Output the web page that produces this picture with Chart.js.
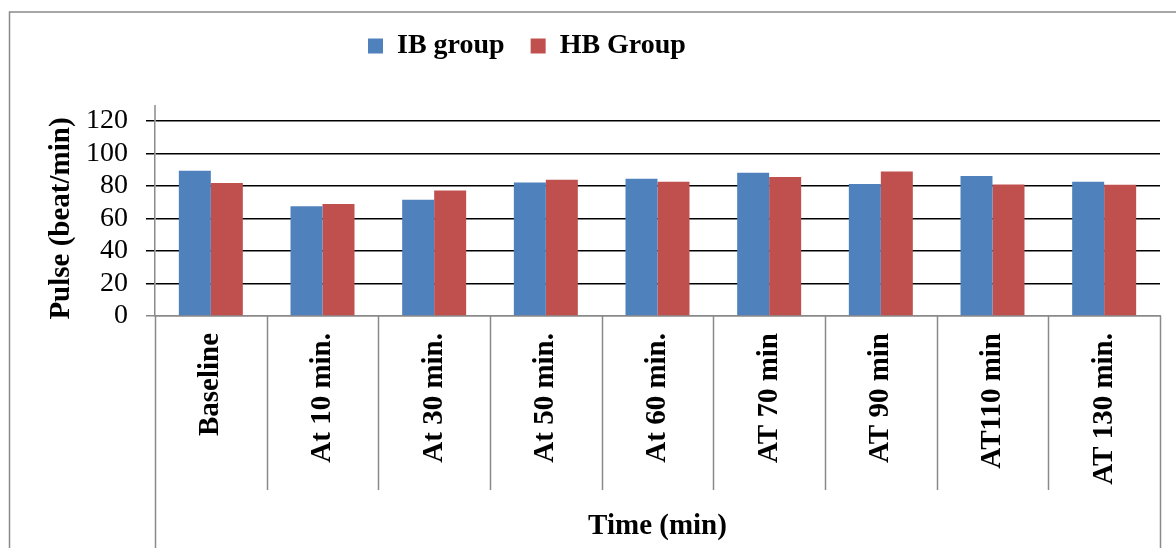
<!DOCTYPE html>
<html>
<head>
<meta charset="utf-8">
<title>Pulse (beat/min)</title>
<script src="https://cdn.jsdelivr.net/npm/chart.js@4.4.1/dist/chart.umd.min.js"></script>
<style>
    body { margin: 0; background: #fff; }
    #wrap { width: 1176px; height: 548px; }
</style>
</head>
<body>
<div id="wrap"><canvas id="pulseChart" width="1176" height="548"></canvas></div>
<script>
// data
const timeLabels = ['Baseline', 'At 10 min.', 'At 30 min.', 'At 50 min.', 'At 60 min.', 'AT 70 min', 'AT 90 min', 'AT110 min', 'AT 130 min.'];
const ibGroup = [89.4, 67.5, 71.6, 82.1, 84.4, 88.1, 81.3, 86.1, 82.6];
const hbGroup = [81.9, 68.9, 77.2, 83.8, 82.6, 85.5, 89.0, 80.9, 80.7];
const yTicks = [0, 20, 40, 60, 80, 100, 120];

const AXIS_GREY = '#8a8a8a';
const SERIF = "'Liberation Serif', 'Times New Roman', serif";

Chart.defaults.font.family = SERIF;
Chart.defaults.color = '#000';

// legend sits left of the middle and leaves a big gap above the plot
const legendPlace = {
    id: 'legendPlace',
    beforeInit(chart) {
        const originalFit = chart.legend.fit;
        chart.legend.fit = function() {
            originalFit.bind(chart.legend)();
            this.height = 115;
        };
    },
    afterLayout(chart) {
        chart.legend.left = 342;
    }
};

// outer frame, category dividers under the axis, axis line stub above 120
const frameLines = {
    id: 'frameLines',
    beforeDraw(chart) {
        const ctx = chart.ctx;
        ctx.save();
        ctx.strokeStyle = AXIS_GREY;
        ctx.lineWidth = 1.5;
        ctx.beginPath();
        ctx.moveTo(9.5, chart.height);
        ctx.lineTo(9.5, 12);
        ctx.lineTo(chart.width, 12);
        ctx.stroke();
        ctx.restore();
    },
    afterDraw(chart) {
        const { ctx, chartArea } = chart;
        const n = timeLabels.length;
        const step = (chartArea.right - chartArea.left) / n;
        ctx.save();
        ctx.strokeStyle = AXIS_GREY;
        ctx.lineWidth = 1.5;
        ctx.beginPath();
        for (let i = 0; i <= n; i++) {
            const px = Math.round(chartArea.left + i * step) + 0.5;
            const endY = (i === 0 || i === n) ? chart.height : chartArea.bottom + 174;
            ctx.moveTo(px, chartArea.bottom);
            ctx.lineTo(px, endY);
        }
        ctx.moveTo(chartArea.left, chartArea.top - 16);
        ctx.lineTo(chartArea.left, chartArea.top);
        ctx.stroke();
        ctx.restore();
    }
};

new Chart(document.getElementById('pulseChart'), {
    type: 'bar',
    data: {
        labels: timeLabels,
        datasets: [
            { label: 'IB group', data: ibGroup, backgroundColor: '#4f81bd' },
            { label: 'HB Group', data: hbGroup, backgroundColor: '#c0504d' }
        ]
    },
    plugins: [legendPlace, frameLines],
    options: {
        responsive: false,
        animation: false,
        layout: { padding: { top: 6, left: 44, right: 16, bottom: 0 } },
        datasets: {
            bar: { categoryPercentage: 0.573, barPercentage: 1.0 }
        },
        plugins: {
            tooltip: { enabled: false },
            legend: {
                position: 'top',
                align: 'start',
                labels: {
                    boxWidth: 15,
                    boxHeight: 15,
                    padding: 26,
                    color: '#000',
                    font: { family: SERIF, size: 28, weight: 'bold' }
                }
            }
        },
        scales: {
            x: {
                grid: { display: false, drawTicks: false },
                border: { display: true, color: AXIS_GREY, width: 1.5 },
                ticks: {
                    minRotation: 90,
                    maxRotation: 90,
                    padding: 17,
                    autoSkip: false,
                    color: '#000',
                    font: { family: SERIF, size: 29, weight: 'bold' }
                },
                title: {
                    display: true,
                    text: 'Time (min)',
                    color: '#000',
                    font: { family: SERIF, size: 29, weight: 'bold' },
                    padding: { top: 0, bottom: 4 }
                },
                afterFit(scale) { scale.height = 232; }
            },
            y: {
                min: 0,
                max: 120,
                afterBuildTicks(scale) {
                    scale.ticks = yTicks.map(v => ({ value: v }));
                },
                grid: {
                    color: ctx => (ctx.tick && ctx.tick.value === 0) ? AXIS_GREY : '#000',
                    lineWidth: 1.5,
                    tickLength: 9
                },
                border: { display: true, color: AXIS_GREY, width: 1.5 },
                ticks: {
                    padding: 18,
                    autoSkip: false,
                    color: '#000',
                    font: { family: SERIF, size: 28 }
                },
                title: {
                    display: true,
                    text: 'Pulse (beat/min)',
                    color: '#000',
                    font: { family: SERIF, size: 29, weight: 'bold' },
                    padding: 0
                },
                afterFit(scale) { scale.width = 111; }
            }
        }
    }
});
</script>
</body>
</html>
